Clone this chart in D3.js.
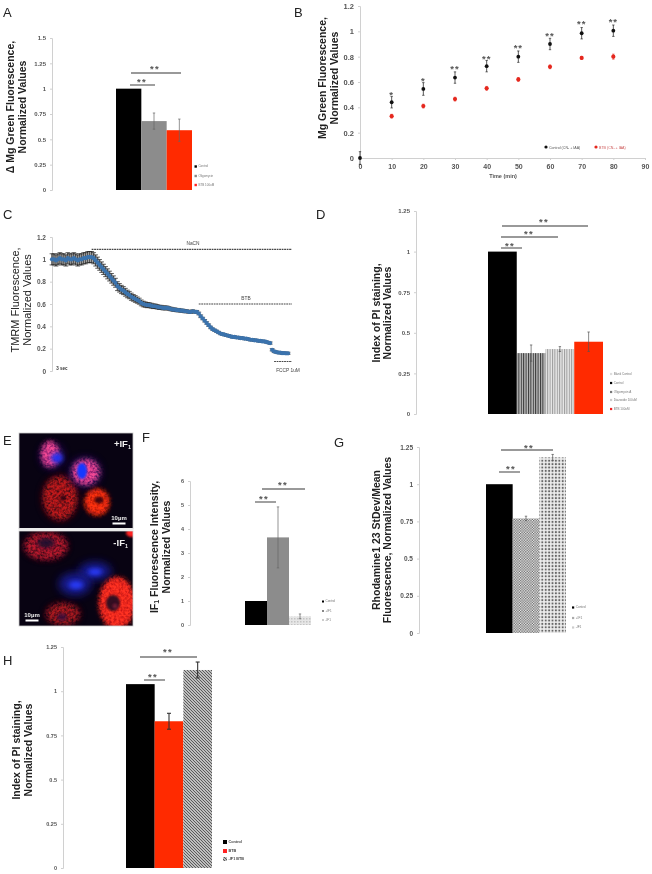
<!DOCTYPE html>
<html><head><meta charset="utf-8">
<script src="https://cdn.jsdelivr.net/npm/d3@7/dist/d3.min.js"></script>
<style>
html,body{margin:0;padding:0;background:#fff;overflow:hidden}
svg{display:block;filter:blur(0.55px)}
text{font-family:"Liberation Sans",Arial,sans-serif}
</style></head><body><div id="c"></div>
<script>
// ---------- data ----------
const aCategories=["Control","Oligomycin","BTB 100uM"];
const aValues=[1,0.68,0.59];
const aErrors=[0,0.08,0.11];
const aTicks=[0,0.25,0.5,0.75,1,1.25,1.5];

const bTimes=[0,10,20,30,40,50,60,70,80];
const bControl=[0,0.44,0.545,0.635,0.725,0.80,0.90,0.985,1.005];
const bControlErr=[0.05,0.045,0.05,0.045,0.045,0.045,0.045,0.045,0.045];
const bBtb=[0.33,0.41,0.465,0.55,0.62,0.72,0.79,0.80];
const bBtbTimes=[10,20,30,40,50,60,70,80];
const bBtbErr=[0.015,0.015,0.015,0.015,0.015,0.015,0.012,0.02];
const bStars=["","*","*","**","**","**","**","**","**"];
const bStarLevels=[0,0.515,0.62,0.72,0.80,0.885,0.98,1.07,1.09];
const bYTicks=[0,0.2,0.4,0.6,0.8,1,1.2];
const bXTicks=[0,10,20,30,40,50,60,70,80,90];

const cSeries=[1.00,1.00,.99,1.00,1.01,1.00,1.00,.99,1.01,1.00,1.00,1.01,1.00,.99,1.00,1.00,1.01,1.01,1.02,1.02,
1.02,1.01,.99,.97,.95,.93,.91,.89,.87,.85,.83,.81,.79,.76,.745,.73,.72,.705,.69,.68,.665,.655,
.645,.635,.625,.61,.60,.595,.59,.59,.585,.58,.58,.575,.57,.57,.565,.565,.565,
.56,.555,.55,.55,.545,.545,.54,.54,.535,.535,.53,.53,.535,.53,.53,
.515,.49,.47,.45,.43,.41,.39,.375,.365,.355,.345,.335,.33,.325,.32,.315,.31,
.305,.305,.30,.30,.295,.295,.29,.29,.285,.28,.28,.275,.275,.27,.27,.265,.265,.26,.255,.25,
.19,.175,.17,.165,.165,.16,.16,.158,.158];
const cErrors=[.05,.05,.05,.05,.05,.05,.05,.05,.05,.05,.05,.05,.05,.05,.05,.05,.05,.05,.05,.05,
.05,.05,.05,.05,.048,.047,.046,.045,.045,.044,.043,.042,.04,.04,.038,.037,.036,.035,.034,.033,.032,.03,
.03,.028,.027,.026,.025,.024,.023,.022,.022,.021,.02,.02,.019,.018,.018,.018,.017,
.016,.016,.015,.015,.015,.015,.014,.014,.014,.013,.013,.013,.013,.012,.012,
.012,.012,.011,.011,.011,.011,.011,.01,.01,.01,.01,.01,.01,.01,.01,.01,.01,
.01,.01,.01,.01,.01,.01,.01,.01,.01,.01,.01,.01,.01,.01,.01,.01,.01,.01,.01,.01,
.01,.01,.01,.01,.01,.01,.01,.01,.01];
const cTicks=[0,0.2,0.4,0.6,0.8,1,1.2];
const cTreatNaCN=[20,121,1.09];
const cTreatBTB=[74,121,0.6];
const cTreatFCCP=[112,121,0.085];

const dCategories=["Blank Control","Control","Oligomycin A","Diazoxide 100uM","BTB 100uM"];
const dValues=[1,0.375,0.40,0.445];
const dErrors=[0,0.05,0.015,0.06];
const dTicks=[0,0.25,0.5,0.75,1,1.25];

const fCategories=["Control","+IF1","-IF1"];
const fValues=[1,3.65,0.36];
const fErrors=[0,1.27,0.1];
const fTicks=[0,1,2,3,4,5,6];

const gCategories=["Control","+IF1","-IF1"];
const gValues=[1,0.77,1.18];
const gErrors=[0,0.015,0.02];
const gTicks=[0,0.25,0.5,0.75,1,1.25];

const hCategories=["Control","BTB","-IF1 BTB"];
const hValues=[1.04,0.83,1.12];
const hErrors=[0,0.045,0.045];
const hTicks=[0,0.25,0.5,0.75,1,1.25];

// ---------- page ----------
const W=652,H=874;
const svg=d3.select("#c").append("svg").attr("width",W).attr("height",H).attr("viewBox",`0 0 ${W} ${H}`);
const defs=svg.append("defs");
function pat(id,w,h,bg,draw){
  const p=defs.append("pattern").attr("id",id).attr("patternUnits","userSpaceOnUse").attr("width",w).attr("height",h);
  p.append("rect").attr("width",w).attr("height",h).attr("fill",bg);
  draw(p);
}
pat("vDark",2.4,2.4,"#bdbdbd",p=>p.append("rect").attr("width",1).attr("height",2.4).attr("fill","#333"));
pat("vLight",2.4,2.4,"#e8e8e8",p=>p.append("rect").attr("width",1).attr("height",2.4).attr("fill","#9a9a9a"));
pat("check",2.6,2.6,"#f2f2f2",p=>{p.append("rect").attr("width",1.3).attr("height",1.3).attr("fill","#666");p.append("rect").attr("x",1.3).attr("y",1.3).attr("width",1.3).attr("height",1.3).attr("fill","#666");});
pat("grid",3.4,3.4,"#ededed",p=>p.append("circle").attr("cx",1.7).attr("cy",1.7).attr("r",1.05).attr("fill","#666"));
pat("lgrid",3,3,"#e6e6e6",p=>p.append("rect").attr("width",1.5).attr("height",1.5).attr("fill","#c4c4c4"));
pat("diag",3,3,"#eeeeee",p=>p.append("path").attr("d","M-1,2 L1,4 M0,0 L3,3 M2,-1 L4,1").attr("stroke","#555").attr("stroke-width",1.2));

function panelLetter(t,x,y){svg.append("text").attr("x",x).attr("y",y).attr("font-size",13).attr("fill","#222").text(t);}
function yAxis(scale,x,ticks,fs,fmt){
  const g=svg.append("g").attr("transform",`translate(${x},0)`)
    .call(d3.axisLeft(scale).tickValues(ticks).tickSize(2).tickPadding(4).tickFormat(fmt||(d=>String(d))));
  g.selectAll("line,path").attr("stroke","#d0d0d0");
  g.selectAll("text").attr("font-size",fs).attr("font-weight","bold").attr("fill","#555").attr("font-family",'"Liberation Sans",Arial,sans-serif');
  return g;
}
function title(lines,xs,cy,fs,weight){
  lines.forEach((l,i)=>{
    svg.append("text").attr("transform",`translate(${xs[i]},${cy}) rotate(-90)`)
      .attr("text-anchor","middle").attr("dominant-baseline","middle")
      .attr("font-size",fs).attr("font-weight",weight||"bold").attr("fill","#222").text(l);
  });
}
function bracket(x1,x2,y,sx,sy,stars){
  svg.append("line").attr("x1",x1).attr("x2",x2).attr("y1",y).attr("y2",y).attr("stroke","#777").attr("stroke-width",1.4);
  svg.append("text").attr("x",sx).attr("y",sy+4).attr("text-anchor","middle").attr("font-size",9.5).attr("font-weight","bold").attr("letter-spacing",1.4).attr("fill","#555").text(stars||"**");
}
function legend(names,colors,x,ys,size,fs,weight,col){
  names.forEach((n,i)=>{
    svg.append("rect").attr("x",x).attr("y",ys[i]-size/2).attr("width",size).attr("height",size).attr("fill",colors[i]);
    svg.append("text").attr("x",x+size+1.5).attr("y",ys[i]).attr("dominant-baseline","middle").attr("font-size",fs).attr("font-weight",weight||"normal").attr("fill",col||"#777").text(n);
  });
}
function bars(values,errors,fills,x0,x1,y0,yTop,maxV,ticks,axisX,fs,errCol,errW,cap){
  const y=d3.scaleLinear().domain([0,maxV]).range([y0,yTop]);
  const x=d3.scaleBand().domain(d3.range(values.length)).range([x0,x1]).padding(0);
  yAxis(y,axisX,ticks,fs);
  svg.append("g").selectAll("rect").data(values).join("rect")
    .attr("x",(d,i)=>x(i)).attr("width",x.bandwidth()).attr("y",d=>y(d)).attr("height",d=>y0-y(d))
    .attr("fill",(d,i)=>fills[i]);
  const eg=svg.append("g").attr("stroke",errCol||"#555").attr("stroke-width",errW||.7);
  values.forEach((v,i)=>{
    if(!errors[i])return;
    const cx=x(i)+x.bandwidth()/2, c=cap||1.2;
    eg.append("line").attr("x1",cx).attr("x2",cx).attr("y1",y(v-errors[i])).attr("y2",y(v+errors[i]));
    [v-errors[i],v+errors[i]].forEach(e=>eg.append("line").attr("x1",cx-c).attr("x2",cx+c).attr("y1",y(e)).attr("y2",y(e)));
  });
  return y;
}

// ---------- A ----------
panelLetter("A",3,17);
bars(aValues,aErrors,["#000","#8c8c8c","#ff2a00"],116,192,190,38,1.5,aTicks,52,6,"#666");
title(["Δ Mg Green Fluorescence,","Normalized Values"],[11,23],107,10.5);
bracket(130,155,85,142,81);bracket(131,181,73,155,68);
legend(aCategories,["#000","#888","#f22"],194.5,[166.5,176,185],2.4,3);

// ---------- B ----------
panelLetter("B",294,17);
{
  const x=d3.scaleLinear().domain([0,90]).range([360,645]);
  const y=d3.scaleLinear().domain([0,1.2]).range([158,6]);
  yAxis(y,360,bYTicks,7.5,d=>d===0?"0":(d===1?"1":d3.format(".1f")(d)));
  const gx=svg.append("g").attr("transform","translate(0,158)").call(d3.axisBottom(x).tickValues(bXTicks).tickSize(2).tickPadding(4));
  gx.selectAll("line,path").attr("stroke","#d0d0d0");
  gx.selectAll("text").attr("font-size",7).attr("font-weight","bold").attr("fill","#555").attr("font-family",'"Liberation Sans",Arial,sans-serif');
  const drawSeries=(times,vals,errs,col,r)=>{
    const g=svg.append("g");
    vals.forEach((v,i)=>{
      const cx=x(times[i]);
      g.append("line").attr("x1",cx).attr("x2",cx).attr("y1",y(v-errs[i])).attr("y2",y(v+errs[i])).attr("stroke",col).attr("stroke-width",.7);
      [v-errs[i],v+errs[i]].forEach(e=>g.append("line").attr("x1",cx-1.2).attr("x2",cx+1.2).attr("y1",y(e)).attr("y2",y(e)).attr("stroke",col).attr("stroke-width",.6));
      g.append("circle").attr("cx",cx).attr("cy",y(v)).attr("r",r).attr("fill",col);
    });
  };
  drawSeries(bTimes,bControl,bControlErr,"#111",1.9);
  drawSeries(bBtbTimes,bBtb,bBtbErr,"#e5281e",2.1);
  bTimes.forEach((t,i)=>{ if(bStars[i]) svg.append("text").attr("x",x(t)).attr("y",y(bStarLevels[i])+5).attr("text-anchor","middle").attr("font-size",9.5).attr("font-weight","bold").attr("letter-spacing",1).attr("fill","#555").text(bStars[i]); });
  title(["Mg Green Fluorescence,","Normalized Values"],[323,335],78,10.5);
  svg.append("text").attr("x",503).attr("y",177).attr("text-anchor","middle").attr("dominant-baseline","middle").attr("font-size",5.5).attr("font-weight","bold").attr("fill","#555").text("Time (min)");
  svg.append("circle").attr("cx",546).attr("cy",147).attr("r",1.6).attr("fill","#111");
  svg.append("text").attr("x",549).attr("y",148).attr("dominant-baseline","middle").attr("font-size",3.6).attr("fill","#555").text("Control (CN- + IAA)");
  svg.append("circle").attr("cx",596).attr("cy",147).attr("r",1.6).attr("fill","#e5281e");
  svg.append("text").attr("x",599).attr("y",148).attr("dominant-baseline","middle").attr("font-size",3.6).attr("fill","#c55").text("BTB (CN- + IAA)");
}

// ---------- C ----------
panelLetter("C",3,219);
{
  const x=d3.scaleLinear().domain([0,cSeries.length-1]).range([52,288]);
  const y=d3.scaleLinear().domain([0,1.2]).range([371,237]);
  yAxis(y,52,cTicks,6.5,d=>d===0?"0":(d===1?"1":d3.format(".1f")(d)));
  const g=svg.append("g");
  g.selectAll("line").data(cSeries).join("line")
    .attr("x1",(d,i)=>x(i)).attr("x2",(d,i)=>x(i)).attr("y1",(d,i)=>y(d-cErrors[i])).attr("y2",(d,i)=>y(d+cErrors[i]))
    .attr("stroke","#555").attr("stroke-width",1.6);
  svg.append("g").selectAll("path").data(cSeries).join("path")
    .attr("d",(d,i)=>`M${x(i)-2.4},${y(d+cErrors[i])}h4.8M${x(i)-2.4},${y(d-cErrors[i])}h4.8`)
    .attr("stroke","#222").attr("stroke-width",.7);
  svg.append("g").selectAll("circle").data(cSeries).join("circle")
    .attr("cx",(d,i)=>x(i)).attr("cy",d=>y(d)).attr("r",2.1).attr("fill","#3b73ad");
  const treat=(t,label,lx,ly)=>{
    svg.append("line").attr("x1",x(t[0])).attr("x2",x(t[1])).attr("y1",y(t[2])).attr("y2",y(t[2]))
      .attr("stroke","#444").attr("stroke-width",1.2).attr("stroke-dasharray","1.8 .7");
    svg.append("text").attr("x",lx).attr("y",ly).attr("text-anchor","middle").attr("dominant-baseline","middle").attr("font-size",4.8).attr("fill","#444").text(label);
  };
  treat(cTreatNaCN,"NaCN",193,244);
  treat(cTreatBTB,"BTB",246,299);
  treat(cTreatFCCP,"FCCP 1uM",288,371);
  svg.append("text").attr("x",62).attr("y",369).attr("text-anchor","middle").attr("dominant-baseline","middle").attr("font-size",4.5).attr("font-weight","bold").attr("fill","#333").text("3 sec");
  title(["TMRM Fluorescence,","Normalized Values"],[16,28],300,11,"normal");
}

// ---------- D ----------
panelLetter("D",316,219);
bars(dValues,dErrors,["#000","url(#vDark)","url(#vLight)","#ff2a00"],488,603,414,211,1.25,dTicks,416,6);
title(["Index of PI staining,","Normalized Values"],[377,388],313,10.5);
bracket(501,522,248,510,245);bracket(501,558,237,529,233);bracket(502,588,226,544,221);
legend(dCategories,["#ddd","#000","#777","#ccc","#e22"],610,[374,383,392,400,409],2.2,3);

// ---------- E (micrograph) ----------
panelLetter("E",3,445);
{
  const bl=(id,s)=>defs.append("filter").attr("id",id).attr("x","-60%").attr("y","-60%").attr("width","220%").attr("height","220%").append("feGaussianBlur").attr("stdDeviation",s);
  bl("b1",1.3);bl("b2",2.2);bl("b4",4.5);
  const tx=defs.append("filter").attr("id","tex").attr("x","-30%").attr("y","-30%").attr("width","160%").attr("height","160%");
  tx.append("feGaussianBlur").attr("in","SourceGraphic").attr("stdDeviation",2.6).attr("result","s");
  tx.append("feTurbulence").attr("type","fractalNoise").attr("baseFrequency",.42).attr("numOctaves",2).attr("seed",8).attr("result","n");
  tx.append("feColorMatrix").attr("in","n").attr("type","matrix").attr("values","0 0 0 0 0 0 0 0 0 0 0 0 0 0 0 2.2 0 0 0 -0.42").attr("result","a");
  tx.append("feComposite").attr("in","s").attr("in2","a").attr("operator","in").attr("result","t");
  tx.append("feGaussianBlur").attr("in","t").attr("stdDeviation",.55);
  const frame=(id,y,h)=>{
    defs.append("clipPath").attr("id",id).append("rect").attr("x",19).attr("y",y).attr("width",114).attr("height",h);
    const g=svg.append("g").attr("clip-path",`url(#${id})`);
    g.append("rect").attr("x",19).attr("y",y).attr("width",114).attr("height",h).attr("fill","#080312");
    return g;
  };
  const ell=(g,f,c,cx,cy,rx,ry,o)=>g.append("ellipse").attr("cx",cx).attr("cy",cy).attr("rx",rx).attr("ry",ry).attr("fill",c).attr("opacity",o===undefined?1:o).attr("filter",`url(#${f})`);
  const top=frame("clipT",433,95);
  ell(top,"b4","#5a0c12",60,498,17,22,.8);
  ell(top,"tex","#d81c1c",60,498,17,22,.85);
  ell(top,"b2","#c81a08",97,502,12,13,.9);
  ell(top,"tex","#ff3010",97,502,12,13,1);
  ell(top,"b1","#2a0608",99,500,4.5,3.5,.85);
  ell(top,"b1","#1a0410",63,498,2.5,3,.8);
  ell(top,"b4","#30148c",52,456,11,12,.75);
  ell(top,"b4","#30148c",85,472,15,14,.75);
  ell(top,"b2","#a81f70",50,454,8,12,.75);
  ell(top,"b2","#a81f70",85,472,11,11,.75);
  ell(top,"tex","#ff4f9a",50,454,9,13,.9);
  ell(top,"tex","#ff4f9a",86,472,14,13,.9);
  ell(top,"b2","#2030f0",57,458,6,5);
  ell(top,"b1","#1838ff",82,471,5,8);
  const bot=frame("clipB",531,95);
  ell(bot,"b4","#5a0c1c",46,546,20,12,.8);
  ell(bot,"tex","#d81c30",46,546,22,14,.8);
  ell(bot,"b2","#18082e",46,543,9,5,.9);
  ell(bot,"b4","#500c18",63,614,16,10,.8);
  ell(bot,"tex","#c81c24",63,614,17,11,.8);
  ell(bot,"b1","#301040",62,617,5,4,.7);
  ell(bot,"b1","#ff2020",132,533,6,4,1);
  ell(bot,"b4","#1e20b0",95,571,16,9,.8);
  ell(bot,"b4","#1e20b0",75,584,16,11,.8);
  ell(bot,"b2","#2a3cff",95,572,7,3.5,.9);
  ell(bot,"b2","#2a3cff",76,585,7,4,.9);
  ell(bot,"b2","#d01818",117,603,17,25,.95);
  ell(bot,"tex","#ff3020",117,603,18,26,1);
  ell(bot,"b1","#2a0a20",113,603,7,8,.95);
  ell(bot,"b1","#80203a",115,606,2.5,2.5,.8);
  [[19,433],[19,531]].forEach(([x,y])=>svg.append("rect").attr("x",x).attr("y",y).attr("width",114).attr("height",y===433?96:95).attr("fill","none").attr("stroke","#ccc").attr("stroke-width",.8));
  const lab=(t,x,y)=>{const s=svg.append("text").attr("x",x).attr("y",y).attr("text-anchor","end").attr("font-size",9.5).attr("font-weight","bold").attr("fill","#eee").text(t);
    s.append("tspan").attr("dy",2).attr("font-size",5.5).text("1");};
  lab("+IF",131,447);lab("-IF",128,546);
  const sc=(x,y)=>{svg.append("text").attr("x",x).attr("y",y).attr("text-anchor","middle").attr("font-size",6).attr("font-weight","bold").attr("fill","#eee").text("10µm");
    svg.append("rect").attr("x",x-6.5).attr("y",y+2.5).attr("width",13).attr("height",2).attr("fill","#fff");};
  sc(119,520);sc(32,617);
}

// ---------- F ----------
panelLetter("F",142,442);
bars(fValues,fErrors,["#000","#8c8c8c","url(#lgrid)"],245,311,625,481,6,fTicks,190,5.5,"#666");
svg.append("text").attr("transform","translate(155,547) rotate(-90)").attr("text-anchor","middle").attr("dominant-baseline","middle").attr("font-size",10.5).attr("font-weight","bold").attr("fill","#222").text("IF").append("tspan").attr("font-size",7).attr("dy",2).text("1").clone(true).attr("dy",-2).attr("font-size",10.5).text(" Fluorescence Intensity,");
title(["Normalized Values"],[167],547,10.5);
bracket(255,276,502,264,498);bracket(262,305,489,283,484);
legend(fCategories,["#000","#888","#ccc"],322,[601.5,611,620],2,3);

// ---------- G ----------
panelLetter("G",334,447);
bars(gValues,gErrors,["#000","url(#check)","url(#grid)"],486,566,633,447,1.25,gTicks,419,6.5);
title(["Rhodamine1 23 StDev/Mean","Fluorescence, Normalized Values"],[377,388],540,10.5);
bracket(499,520,472,511,468);bracket(501,553,450,529,447);
legend(gCategories,["#000","#aaa","#ccc"],572,[607.5,618,627.5],2.2,3.2);

// ---------- H ----------
panelLetter("H",3,665);
bars(hValues,hErrors,["#000","#ff2a00","url(#diag)"],126,212,868,647,1.25,hTicks,63,5.5,"#333",1.1,2);
title(["Index of PI staining,","Normalized Values"],[17,29],750,10.5);
bracket(144,165,680,153,676);bracket(140,197,657,168,651);
legend(hCategories,["#000","#f22","url(#diag)"],223,[842,851,859],4,3.8,"bold","#444");
</script></body></html>
